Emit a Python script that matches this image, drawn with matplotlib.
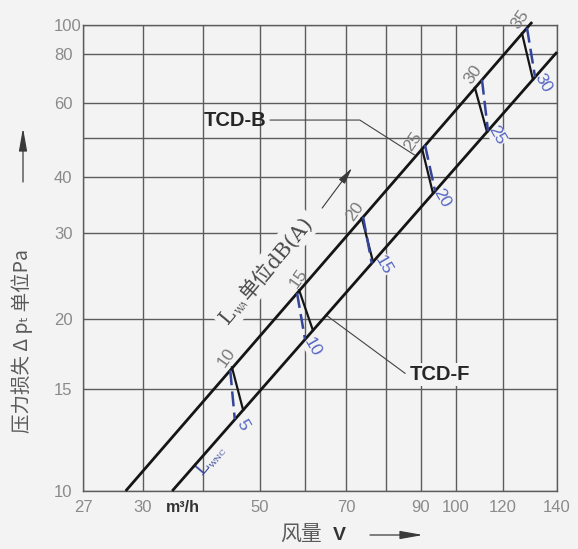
import numpy as np
import matplotlib
matplotlib.use("Agg")
import matplotlib.pyplot as plt

# ---------------- data ----------------
flow_ticks = [27, 30, 40, 50, 60, 70, 80, 90, 100, 120, 140]
flow_labels = ['27', '30', '', '50', '', '70', '', '90', '100', '120', '140']
dp_ticks = [10, 15, 20, 30, 40, 50, 60, 80, 100]
dp_labels = ['10', '15', '20', '30', '40', '', '60', '80', '100']

tcd_b_flow = [29.1, 130.4]
tcd_b_dp = [10.0, 102.3]
tcd_f_flow = [34.5, 140.0]
tcd_f_dp = [10.0, 81.2]

lwa_levels = [10, 15, 20, 25, 30, 35]
lwnc_levels = [5, 10, 15, 20, 25, 30]

rung_top_flow = [44.8, 58.6, 73.8, 90.3, 107.6, 126.7]
rung_top_dp = [16.4, 22.9, 32.4, 47.0, 65.6, 93.7]
rung_bot_flow = [46.8, 61.8, 76.6, 93.3, 112.8, 130.7]
rung_bot_dp = [13.8, 19.1, 26.2, 36.8, 51.6, 68.9]

nc_top_flow = [44.5, 58.1, 74.1, 91.1, 110.6, 128.5]
nc_top_dp = [16.2, 22.6, 32.6, 48.0, 68.8, 97.9]
nc_bot_flow = [45.3, 60.0, 76.3, 93.9, 113.2, 131.5]
nc_bot_dp = [13.3, 18.4, 26.0, 37.2, 51.9, 69.9]

# ---------------- layout / style ----------------
W, H = 578, 549
BG = '#f3f3f3'
GRID = '#5c5c5c'
TICKC = '#8a8a8a'
BLUE = '#34449a'
BLUE_TXT = '#5566c4'
# pixel calibration of the (hand drawn, non uniform) grid
X_POS = [83, 143, 203, 260, 305, 346, 386, 421, 456, 503, 557]
Y_POS = [491, 389, 319, 233, 177, 138, 103, 54, 25]


def make_scale(vals, pos):
    lv = np.log10(np.asarray(vals, float))
    pos = np.asarray(pos, float)
    s0 = (pos[1] - pos[0]) / (lv[1] - lv[0])
    s1 = (pos[-1] - pos[-2]) / (lv[-1] - lv[-2])

    def fwd(v):
        v = np.asarray(v, float)
        lg = np.log10(np.clip(v, 1e-6, None))
        out = np.interp(lg, lv, pos)
        out = np.where(lg < lv[0], pos[0] + (lg - lv[0]) * s0, out)
        out = np.where(lg > lv[-1], pos[-1] + (lg - lv[-1]) * s1, out)
        return out

    def inv(p):
        p = np.asarray(p, float)
        out = np.interp(p, pos, lv)
        out = np.where(p < pos[0], lv[0] + (p - pos[0]) / s0, out)
        out = np.where(p > pos[-1], lv[-1] + (p - pos[-1]) / s1, out)
        return 10 ** out
    return fwd, inv


fig = plt.figure(figsize=(W / 100, H / 100), dpi=100, facecolor=BG)
ax = fig.add_axes([83 / W, 1 - 491 / H, (557 - 83) / W, (491 - 25) / H])
ax.set_facecolor(BG)

ax.set_xscale('function', functions=make_scale(flow_ticks, X_POS))
ax.set_yscale('function', functions=make_scale(dp_ticks, [H - p for p in Y_POS]))
ax.set_xlim(27, 140)
ax.set_ylim(10, 100)
ax.set_xticks(flow_ticks)
ax.set_xticklabels(flow_labels)
ax.set_yticks(dp_ticks)
ax.set_yticklabels(dp_labels)
ax.xaxis.set_minor_locator(matplotlib.ticker.NullLocator())
ax.yaxis.set_minor_locator(matplotlib.ticker.NullLocator())
ax.grid(True, color=GRID, lw=1.0, zorder=0)
ax.set_axisbelow(True)
for s in ax.spines.values():
    s.set_color(GRID)
    s.set_linewidth(1.0)
ax.tick_params(length=0, labelcolor=TICKC, labelsize=12)
ax.tick_params(axis='x', pad=6.5)
ax.tick_params(axis='y', pad=21)
for lbl in ax.get_xticklabels() + ax.get_yticklabels():
    lbl.set_family(['Liberation Sans', 'DejaVu Sans'])
for lbl in ax.get_yticklabels():
    lbl.set_ha('left')

# main lines
ax.plot(tcd_b_flow, tcd_b_dp, color='#151515', lw=2.0, clip_on=False, zorder=8, solid_capstyle='butt')
ax.plot(tcd_f_flow, tcd_f_dp, color='#151515', lw=2.0, clip_on=False, zorder=8, solid_capstyle='butt')

# rungs
for i in range(len(lwa_levels)):
    ax.plot([rung_top_flow[i], rung_bot_flow[i]], [rung_top_dp[i], rung_bot_dp[i]],
            color='#151515', lw=1.6, clip_on=False, zorder=8)
    ax.plot([nc_top_flow[i], nc_bot_flow[i]], [nc_top_dp[i], nc_bot_dp[i]],
            color=BLUE, lw=1.8, ls=(0, (6, 2.5)), clip_on=False, zorder=9)

top_off = [(-5, 10), (-1, 12), (-7, 6), (-9, 7), (-2, 13), (-2, 14)]
bot_off = [(0, -15), (0, -17), (10, -3), (9, -5), (10, -3), (10, -4)]
lbl_bbox = dict(boxstyle='square,pad=0.05', fc=BG, ec='none')
for i in range(len(lwa_levels)):
    ax.annotate(str(lwa_levels[i]), (rung_top_flow[i], rung_top_dp[i]),
                xytext=(top_off[i][0] * 0.72, top_off[i][1] * 0.72), textcoords='offset points',
                rotation=55, ha='center', va='center', fontsize=12.5, color='#7a7a7a',
                family=['Liberation Sans', 'DejaVu Sans'], annotation_clip=False, zorder=6)
    ax.annotate(str(lwnc_levels[i]), (rung_bot_flow[i], rung_bot_dp[i]),
                xytext=(bot_off[i][0] * 0.72, bot_off[i][1] * 0.72), textcoords='offset points',
                rotation=-60, ha='center', va='center', fontsize=12.5, color=BLUE_TXT,
                family=['Liberation Sans', 'DejaVu Sans'], annotation_clip=False, zorder=6,
                bbox=lbl_bbox)

# series labels with leader lines
ax.text(45.3, 54.9, 'TCD-B', fontsize=14.5, fontweight='bold', color='#262626',
        family=['Liberation Sans', 'DejaVu Sans'], ha='center', va='center', zorder=6)
ax.plot([52.1, 73.3, 88.0], [54.9, 54.9, 45.4], color='#444444', lw=0.8, zorder=3)
ax.text(95.3, 15.9, 'TCD-F', fontsize=14.5, fontweight='bold', color='#262626',
        family=['Liberation Sans', 'DejaVu Sans'], ha='center', va='center', zorder=6,
        bbox=dict(boxstyle='square,pad=0.1', fc=BG, ec='none'))
ax.plot([85.3, 65.2], [16.0, 20.3], color='#444444', lw=0.8, zorder=3)


def rotated_parts(x, y, parts, angle, color, bbox=None):
    r = fig.canvas.get_renderer()
    th = np.radians(angle)
    adv = 0.0
    for s, size, shift, fam in parts:
        dx = adv * np.cos(th) - shift * np.sin(th)
        dy = adv * np.sin(th) + shift * np.cos(th)
        ax.annotate(s, (x, y), xytext=(dx, dy), textcoords='offset points',
                    rotation=angle, rotation_mode='anchor', ha='left', va='baseline',
                    fontsize=size, family=fam, color=color, annotation_clip=False,
                    zorder=6, bbox=bbox)
        tmp = fig.text(0, 0, s, fontsize=size, family=fam)
        adv += tmp.get_window_extent(renderer=r).width * 72 / fig.dpi + 1.0
        tmp.remove()


SERIF = ['DejaVu Serif', 'Noto Sans CJK SC']
rotated_parts(44.1, 19.5,
              [('L', 15, 0, SERIF), ('WA', 6.5, -2, SERIF), ('单位dB(A)', 15, 0, SERIF)],
              50, '#4a4a4a', bbox=dict(boxstyle='square,pad=0.2', fc=BG, ec='none'))
ax.annotate('', xy=(71.4, 42.1), xytext=(64.0, 34.1),
            arrowprops=dict(arrowstyle='-|>,head_length=1.0,head_width=0.22',
                            color='#3a3a3a', lw=0.8, shrinkA=0, shrinkB=0), annotation_clip=False)
rotated_parts(39.8, 10.6,
              [('L', 13, 0, SERIF), ('WNC', 6, -2, SERIF)],
              50, BLUE)

# unit label on x axis
fig.text(183 / W, 1 - 507 / H, 'm³/h', fontsize=11.5, fontweight='bold', color='#333333',
         family=['Liberation Sans', 'DejaVu Sans'], ha='center', va='center')

# axis titles with arrows
CJK = ['Noto Sans CJK SC', 'DejaVu Sans']
fig.text(22 / W, 1 - 341 / H, '压力损失 Δ pₜ 单位Pa', rotation=90, fontsize=14,
         color='#5a5a5a', family=CJK, ha='center', va='center')
fig.text(301 / W, 1 - 535 / H, '风量', fontsize=15, color='#5a5a5a', family=CJK,
         ha='center', va='center')
fig.text(339 / W, 1 - 535 / H, 'V', fontsize=14, fontweight='bold', color='#333333',
         family=['Liberation Sans', 'DejaVu Sans'], ha='center', va='center')
arr = dict(arrowstyle='-|>,head_length=1.4,head_width=0.25', color='#3a3a3a', lw=0.9,
           shrinkA=0, shrinkB=0)
ax.annotate('', xy=(423 / W, 1 - 535 / H), xytext=(370 / W, 1 - 535 / H),
            xycoords='figure fraction', textcoords='figure fraction', arrowprops=arr)
ax.annotate('', xy=(23 / W, 1 - 128 / H), xytext=(23 / W, 1 - 182 / H),
            xycoords='figure fraction', textcoords='figure fraction', arrowprops=arr)

fig.savefig('out.png', dpi=100, facecolor=BG)
